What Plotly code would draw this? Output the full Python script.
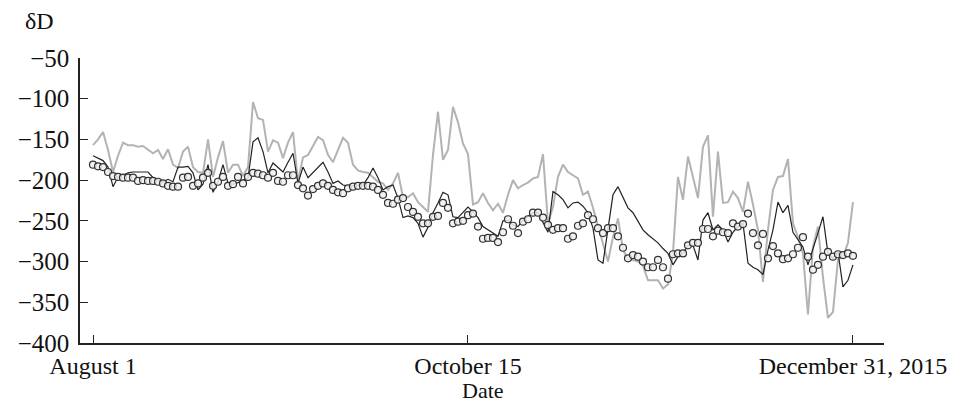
import pandas as pd
import plotly.graph_objects as go

dates = pd.date_range("2015-08-01", "2015-12-31", freq="D")

gray_line = [
    -157, -150, -141, -163, -190, -170, -154, -157, -157, -159, -158, -162, -167, -163, -174, -162, -181, -185, -165, -159,
    -184, -190, -191, -150, -196, -172, -152, -191, -181, -181, -195, -184, -104, -124, -126, -165, -151, -154,
    -173, -154, -141, -202, -172, -169, -157, -147, -151, -169, -178, -163, -148, -154, -181, -188, -190, -191, -196, -202,
    -204, -212, -204, -191, -221, -221, -216, -227, -233, -239, -169, -116, -175, -163, -110, -129, -155, -168,
    -230, -227, -216, -228, -237, -229, -240, -218, -200, -210, -206, -203, -198, -196, -168, -253, -233, -196, -181, -190,
    -194, -198, -218, -214, -234, -257, -280, -300, -270, -247, -285, -298, -298, -300, -305, -323, -323, -323,
    -333, -328, -290, -196, -224, -171, -196, -222, -159, -145, -245, -165, -228, -227, -214, -222, -239, -202, -230, -261,
    -325, -261, -212, -196, -195, -174, -253, -270, -290, -365, -282, -257, -319, -369, -362, -298, -294, -277, -227,
]

black_line = [
    -170, -173, -176, -184, -208, -196, -194, -191, -190, -190, -190, -190, -197, -200, -202, -199, -202, -184, -184, -183,
    -191, -212, -205, -181, -215, -202, -181, -204, -205, -203, -200, -197, -153, -148, -165, -191, -179, -184,
    -190, -178, -167, -204, -184, -197, -191, -185, -178, -190, -204, -201, -206, -207, -207, -206, -206, -197, -185, -197,
    -212, -208, -206, -222, -246, -244, -246, -253, -270, -258, -240, -228, -215, -218, -245, -246, -239, -233,
    -239, -246, -257, -261, -264, -269, -250, -249, -255, -257, -249, -245, -240, -240, -253, -264, -214, -218, -224, -234,
    -228, -227, -232, -240, -259, -298, -302, -257, -218, -208, -222, -234, -240, -251, -261, -267, -272, -277,
    -284, -290, -304, -294, -290, -280, -280, -298, -249, -240, -261, -255, -261, -276, -264, -257, -253, -302, -307, -310,
    -316, -286, -261, -227, -240, -231, -264, -273, -282, -304, -283, -265, -245, -290, -296, -288, -331, -323, -304,
]

circles = [
    -181, -183, -184, -190, -195, -196, -197, -197, -197, -201, -200, -201, -201, -202, -204, -207, -208, -208, -197, -196,
    -207, -204, -197, -191, -207, -202, -196, -207, -205, -196, -204, -196, -191, -192, -194, -197, -191, -201,
    -202, -194, -194, -206, -210, -219, -211, -207, -204, -207, -212, -215, -216, -210, -208, -207, -207, -207, -208, -212,
    -218, -228, -229, -224, -222, -233, -239, -245, -253, -253, -245, -244, -228, -234, -253, -251, -250, -243,
    -241, -257, -272, -271, -271, -276, -264, -248, -256, -265, -251, -248, -240, -240, -246, -255, -261, -259, -259, -272,
    -269, -256, -253, -243, -248, -259, -265, -259, -259, -269, -283, -296, -292, -294, -300, -307, -307, -298,
    -307, -321, -291, -290, -290, -280, -277, -277, -260, -260, -269, -262, -264, -265, -253, -257, -254, -241, -265, -280,
    -266, -296, -281, -290, -297, -296, -291, -283, -270, -294, -310, -304, -294, -288, -294, -291, -292, -290, -293,
]

x_tick_vals = ["2015-08-01", "2015-10-15", "2015-12-31"]
x_tick_text = ["August 1", "October 15", "December 31, 2015"]
y_tick_vals = [-50, -100, -150, -200, -250, -300, -350, -400]

FONT = "Liberation Serif, Times New Roman, serif"

fig = go.Figure()
fig.add_trace(go.Scatter(x=dates, y=gray_line, mode="lines",
                         line=dict(color="#b3b3b3", width=2), showlegend=False))
fig.add_trace(go.Scatter(x=dates, y=black_line, mode="lines",
                         line=dict(color="#222222", width=1.2), showlegend=False))
fig.add_trace(go.Scatter(x=dates, y=circles, mode="markers",
                         marker=dict(symbol="circle", size=7, color="rgba(240,240,240,0.85)",
                                     line=dict(color="#333333", width=1.2)),
                         showlegend=False))

fig.update_layout(
    width=963, height=405,
    margin=dict(l=80, r=79, t=58, b=62),
    paper_bgcolor="white", plot_bgcolor="white",
    font=dict(family=FONT, size=24, color="#111111"),
    xaxis=dict(
        range=["2015-07-29 09:30", "2016-01-06 05:00"],
        tickvals=x_tick_vals, ticktext=x_tick_text,
        ticks="inside", ticklen=8, tickwidth=1.2, tickcolor="#222",
        showline=True, linecolor="#222", linewidth=1.5,
        showgrid=False, zeroline=False,
        tickfont=dict(family=FONT, size=24),
        ticklabelstandoff=0,
    ),
    yaxis=dict(
        range=[-400, -50],
        tickvals=y_tick_vals,
        ticks="inside", ticklen=8, tickwidth=1.2, tickcolor="#222",
        showline=True, linecolor="#222", linewidth=1.5,
        showgrid=False, zeroline=False,
        tickfont=dict(family=FONT, size=25),
        ticklabelstandoff=4,
    ),
    annotations=[
        dict(text="δD", xref="paper", yref="paper", x=-0.05, y=1.13,
             xanchor="center", yanchor="middle", showarrow=False,
             font=dict(family=FONT, size=24)),
        dict(text="Date", xref="paper", yref="paper", x=0.501, y=-0.216,
             xanchor="center", yanchor="bottom", showarrow=False,
             font=dict(family=FONT, size=22)),
    ],
)

fig.write_html("out.html")
